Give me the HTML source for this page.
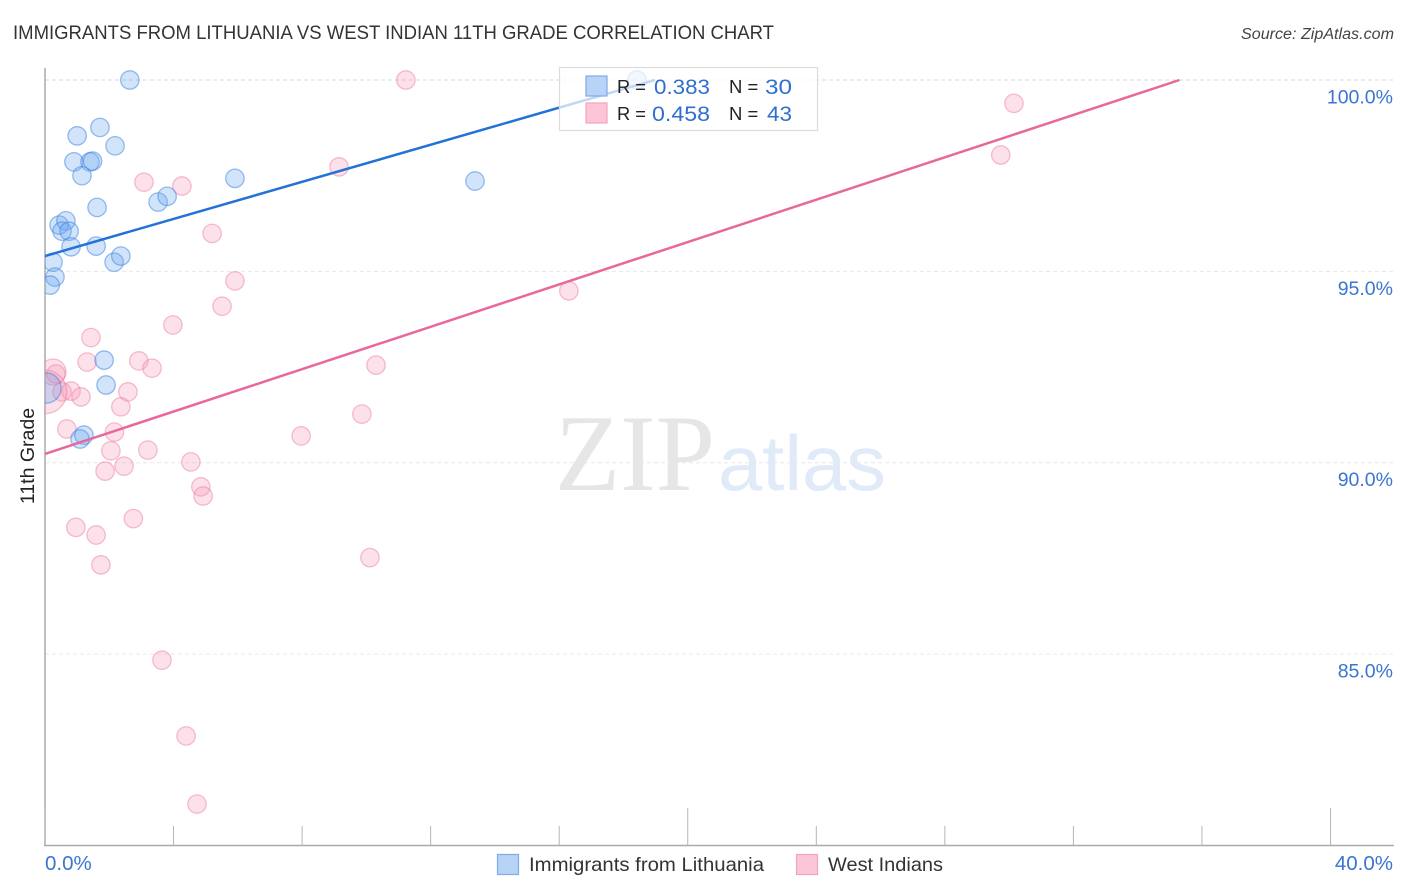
<!DOCTYPE html>
<html>
<head>
<meta charset="utf-8">
<title>Immigrants from Lithuania vs West Indian 11th Grade Correlation Chart</title>
<style>
html,body{margin:0;padding:0;background:#fff;}
svg{display:block;font-family:"Liberation Sans",sans-serif;}
</style>
</head>
<body>
<svg id="chart" xmlns="http://www.w3.org/2000/svg" width="1406" height="892" viewBox="0 0 1406 892">
  <defs><clipPath id="plot-clip"><rect x="45" y="60" width="1349" height="785"/></clipPath></defs>
  <text x="13" y="39" font-size="19" fill="#333" textLength="761" lengthAdjust="spacingAndGlyphs">IMMIGRANTS FROM LITHUANIA VS WEST INDIAN 11TH GRADE CORRELATION CHART</text>
  <text x="1394" y="39" font-size="15.5" font-style="italic" fill="#444" text-anchor="end" textLength="153" lengthAdjust="spacingAndGlyphs">Source: ZipAtlas.com</text>
  <g>
    <text x="555" y="490" font-family="'Liberation Serif',serif" font-size="109" fill="#e6e6e6" textLength="160" lengthAdjust="spacingAndGlyphs">ZIP</text>
    <text x="718" y="490" font-size="78" fill="#e0eaf8" textLength="168" lengthAdjust="spacingAndGlyphs">atlas</text>
  </g>
  <g id="grid"></g>
  <g id="axes"></g>
  <g id="marks" clip-path="url(#plot-clip)"></g>
  <text transform="translate(34,456) rotate(-90)" font-size="19.5" fill="#222" text-anchor="middle">11th Grade</text>
  <g>
    <rect x="559.5" y="67.5" width="258" height="63" fill="#fff" fill-opacity="0.72" stroke="#dcdcdc" stroke-width="1.2"/>
    <rect x="586" y="76" width="21" height="20" fill="#b7d4f7" stroke="#7fabe6" stroke-width="1.2"/>
    <rect x="586" y="103" width="21" height="20" fill="#fcc6d8" stroke="#f3a3bd" stroke-width="1.2"/>
    <text x="617" y="93" font-size="18.5" fill="#222" textLength="29" lengthAdjust="spacingAndGlyphs">R =</text>
    <text x="654" y="94" font-size="21" fill="#2f6fd0" textLength="56" lengthAdjust="spacingAndGlyphs">0.383</text>
    <text x="729" y="93" font-size="18.5" fill="#222">N =</text>
    <text x="765" y="94" font-size="21" fill="#2f6fd0" textLength="27" lengthAdjust="spacingAndGlyphs">30</text>
    <text x="617" y="120" font-size="18.5" fill="#222" textLength="29" lengthAdjust="spacingAndGlyphs">R =</text>
    <text x="652" y="121" font-size="21" fill="#2f6fd0" textLength="58" lengthAdjust="spacingAndGlyphs">0.458</text>
    <text x="729" y="120" font-size="18.5" fill="#222">N =</text>
    <text x="767" y="121" font-size="21" fill="#2f6fd0" textLength="25" lengthAdjust="spacingAndGlyphs">43</text>
  </g>
  <g>
    <rect x="497.5" y="854.5" width="21" height="20" fill="#b7d4f7" stroke="#7fabe6" stroke-width="1.2"/>
    <text x="529" y="871" font-size="19.5" fill="#333" textLength="235" lengthAdjust="spacingAndGlyphs">Immigrants from Lithuania</text>
    <rect x="796.5" y="854.5" width="21" height="20" fill="#fcc6d8" stroke="#f3a3bd" stroke-width="1.2"/>
    <text x="828" y="871" font-size="19.5" fill="#333" textLength="115" lengthAdjust="spacingAndGlyphs">West Indians</text>
  </g>
</svg>
<script>
var yTickValues = [100, 95, 90, 85];
var yTickLabels = ["100.0%", "95.0%", "90.0%", "85.0%"];
var xTickValues = [0, 4, 8, 12, 16, 20, 24, 28, 32, 36, 40];
var xMajorTicks = [0, 20, 40];
var xEdgeLabels = ["0.0%", "40.0%"];

var lithuaniaX = [2.64,1.71,1.00,2.18,0.90,1.40,1.48,1.15,5.91,13.38,3.52,3.80,1.62,0.44,0.65,0.53,0.75,0.81,1.59,0.25,2.15,2.36,0.31,0.16,1.84,1.90,0.03,1.21,1.09,18.42];
var lithuaniaY = [100,98.76,98.54,98.28,97.86,97.86,97.88,97.50,97.43,97.36,96.81,96.96,96.67,96.21,96.32,96.05,96.05,95.64,95.66,95.24,95.24,95.40,94.85,94.64,92.68,92.03,91.95,90.72,90.62,100];
var lithuaniaWeight = [1,1,1,1,1,1,1,1,1,1,1,1,1,1,1,1,1,1,1,1,1,1,1,1,1,1,2.7,1,1,1];

var westIndianX = [11.23,30.15,29.74,9.15,3.08,4.26,5.20,5.91,5.51,16.30,3.98,1.43,1.31,2.92,3.33,10.30,0.25,0.34,2.58,0.53,0.81,1.12,2.36,9.86,0.68,2.16,7.97,2.05,3.20,1.87,2.46,4.54,4.85,4.92,2.75,0.96,1.59,1.74,10.11,3.64,4.39,4.73,0];
var westIndianY = [100,99.39,98.04,97.73,97.33,97.23,95.99,94.75,94.09,94.49,93.60,93.27,92.63,92.66,92.47,92.55,92.37,92.32,91.85,91.85,91.87,91.72,91.46,91.27,90.88,90.80,90.70,90.31,90.33,89.78,89.91,90.02,89.37,89.13,88.54,88.31,88.11,87.33,87.52,84.84,82.86,81.08,91.85];
var westIndianWeight = [1,1,1,1,1,1,1,1,1,1,1,1,1,1,1,1,2,1,1,1,1,1,1,1,1,1,1,1,1,1,1,1,1,1,1,1,1,1,1,1,1,1,5.6];

var lithuaniaTrendX = [0, 18.98];
var lithuaniaTrendY = [95.4, 100];
var westIndianTrendX = [0, 35.3];
var westIndianTrendY = [90.23, 100];

var NS = "http://www.w3.org/2000/svg";
function xScale(v) { return 45 + (v / 40) * 1285.5; }
function yScale(v) { return 80 + (100 - v) * 38.27; }
function rScale(w) { return 9.2 * Math.sqrt(w); }
function make(tag, attrs, parent) {
  var el = document.createElementNS(NS, tag);
  for (var k in attrs) { el.setAttribute(k, attrs[k]); }
  parent.appendChild(el);
  return el;
}
var grid = document.getElementById("grid");
var axes = document.getElementById("axes");
var marks = document.getElementById("marks");

yTickValues.forEach(function (v, i) {
  var line = make("line", {x1: 45, x2: 1394, y1: yScale(v), y2: yScale(v), stroke: i === 0 ? "#d8d8d8" : "#e8e8e8", "stroke-width": 1, "stroke-dasharray": "4 3"}, grid);
  
  
  var label = make("text", {x: 1393, y: yScale(v) + 23.5, "font-size": 19.5, fill: "#3a75d2", "text-anchor": "end"}, axes);
  label.textContent = yTickLabels[i];
  
  
});

var yAxis = make("line", {x1: 45, x2: 45, y1: 68, y2: 845.5, stroke: "#aaa", "stroke-width": 1.5}, axes);


var xAxis = make("line", {x1: 44, x2: 1394, y1: 845.5, y2: 845.5, stroke: "#aaa", "stroke-width": 1.5}, axes);



xTickValues.forEach(function (v) {
  var major = xMajorTicks.indexOf(v) >= 0;
  var tick = make("line", {x1: xScale(v), x2: xScale(v), y1: major ? 808 : 826, y2: 845, stroke: "#b5b5b5", "stroke-width": 1}, axes);
  
  
});

var xLabelLeft = make("text", {x: xScale(0), y: 870, "font-size": 20.5, fill: "#3a75d2"}, axes);
xLabelLeft.textContent = xEdgeLabels[0];


var xLabelRight = make("text", {x: 1393, y: 870, "font-size": 20.5, fill: "#3a75d2", "text-anchor": "end"}, axes);
xLabelRight.textContent = xEdgeLabels[1];



westIndianX.forEach(function (v, i) {
  var c = make("circle", {cx: xScale(v), cy: yScale(westIndianY[i]), r: rScale(westIndianWeight[i]), fill: "#f78fb0", "fill-opacity": 0.27, stroke: "#ec7fa3", "stroke-opacity": 0.5, "stroke-width": 1.3}, marks);
  
  
});
lithuaniaX.forEach(function (v, i) {
  var c = make("circle", {cx: xScale(v), cy: yScale(lithuaniaY[i]), r: rScale(lithuaniaWeight[i]), fill: "#6aa5ee", "fill-opacity": 0.3, stroke: "#3c83de", "stroke-opacity": 0.52, "stroke-width": 1.3}, marks);
  
  
});
var trendA = make("line", {x1: xScale(lithuaniaTrendX[0]), y1: yScale(lithuaniaTrendY[0]), x2: xScale(lithuaniaTrendX[1]), y2: yScale(lithuaniaTrendY[1]), stroke: "#2272d8", "stroke-width": 2.5}, marks);


var trendB = make("line", {x1: xScale(westIndianTrendX[0]), y1: yScale(westIndianTrendY[0]), x2: xScale(westIndianTrendX[1]), y2: yScale(westIndianTrendY[1]), stroke: "#e8689b", "stroke-width": 2.5}, marks);


</script>
</body>
</html>
